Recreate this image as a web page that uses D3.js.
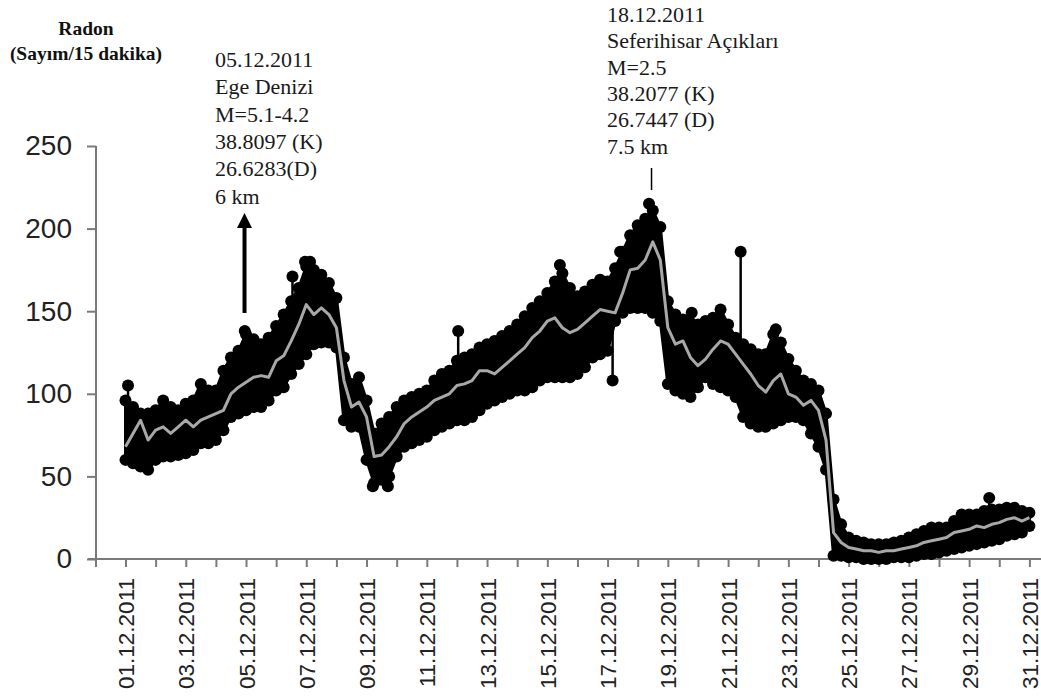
<!DOCTYPE html>
<html>
<head>
<meta charset="utf-8">
<script src="https://cdn.jsdelivr.net/npm/d3@7"></script>
<style>
  html, body { margin: 0; padding: 0; background: #fff; }
  svg { display: block; }
</style>
</head>
<body>
<svg id="chart" width="1041" height="700"></svg>
<script>
// ---- data (6-hour steps from 01.12.2011 00:00) ----
const meanValues = [
  68,76,84,72, 78,80,76,80, 84,80,84,86, 88,90,100,104, 107,110,111,110,
  120,123,132,142, 154,148,152,148, 140,108,92,95, 86,62,63,68, 74,82,86,89,
  92,96,98,100, 105,106,108,114, 114,112,116,120, 124,128,134,138, 144,146,140,137,
  139,143,147,151, 150,149,161,175, 176,181,192,181, 140,130,132,122, 117,121,127,132,
  130,124,118,112, 105,101,108,112, 100,98,93,96, 90,72,16,10, 7,6,5,5,
  4,5,5,6, 7,8,10,11, 12,13,16,17, 18,20,19,21, 22,24,25,23, 25
];
const upperValues = [
  96,92,88,88, 90,96,92,90, 94,96,106,102, 102,114,122,126, 136,133,130,134,
  141,148,156,164, 177,175,172,167, 158,122,106,110, 96,76,82,86, 92,96,98,100,
  102,108,112,114, 120,122,124,128, 130,132,135,138, 142,147,152,156, 161,168,173,164,
  159,162,166,169, 168,176,186,196, 202,206,211,201, 156,148,145,143, 142,144,146,151,
  142,134,130,127, 124,124,136,131, 121,114,108,106, 102,88,36,21, 13,11,10,9,
  9,9,10,11, 13,15,17,19, 19,19,23,27, 27,27,29,30, 30,31,31,29, 28
];
const lowerValues = [
  60,58,56,54, 60,62,62,63, 64,66,70,70, 72,78,86,88, 90,92,92,96,
  102,104,112,118, 124,130,131,131, 128,84,80,80, 60,46,48,50, 62,68,70,72,
  74,78,80,82, 84,84,86,90, 94,96,98,100, 102,102,104,108, 110,110,110,110,
  112,116,122,124, 126,144,149,152, 152,152,149,144, 106,102,100,98, 104,110,106,104,
  102,98,86,82, 80,80,82,84, 86,86,84,76, 68,54,2,2, 1,1,0,0,
  0,0,1,1, 1,2,3,3, 4,5,6,7, 8,9,10,11, 12,14,15,16, 20
];
// isolated readings standing out of the band
const spikeTimes = [
  "2011-12-01T02:00","2011-12-04T23:00","2011-12-06T13:00","2011-12-06T23:00",
  "2011-12-07T03:00","2011-12-09T05:00","2011-12-09T17:00","2011-12-12T01:00",
  "2011-12-15T10:00","2011-12-17T04:00","2011-12-17T10:00","2011-12-18T09:00",
  "2011-12-19T19:00","2011-12-21T10:00","2011-12-22T14:00","2011-12-29T16:00"
];
const spikeValues = [105,138,171,180, 180,44,44,138, 178,108,186,215, 149,186,139,37];

const yTicks = [0,50,100,150,200,250];
const tickLabels = ["01.12.2011","03.12.2011","05.12.2011","07.12.2011","09.12.2011",
  "11.12.2011","13.12.2011","15.12.2011","17.12.2011","19.12.2011","21.12.2011",
  "23.12.2011","25.12.2011","27.12.2011","29.12.2011","31.12.2011"];

const note1 = ["05.12.2011","Ege Denizi","M=5.1-4.2","38.8097 (K)","26.6283(D)","6 km"];
const note2 = ["18.12.2011","Seferihisar Açıkları","M=2.5","38.2077 (K)","26.7447 (D)","7.5 km"];

// ---- scales ----
const svg = d3.select("#chart");
const t0 = new Date(2011, 11, 1);
const x = d3.scaleTime().domain([t0, new Date(2011, 11, 31)]).range([125.5, 1029.4]);
const y = d3.scaleLinear().domain([0, 250]).range([559, 146]);
const times = meanValues.map((_, i) => d3.timeHour.offset(t0, i * 6));
const parse = d3.timeParse("%Y-%m-%dT%H:%M");

const axisColor = "#7a7a7a";
const textColor = "#222";

// ---- axes ----
const yAxis = svg.append("g").attr("transform", "translate(96,0)")
  .call(d3.axisLeft(y).tickValues(yTicks).tickSize(9).tickPadding(15));
yAxis.select(".domain").remove();
yAxis.selectAll(".tick line").attr("stroke", axisColor).attr("stroke-width", 2);
yAxis.selectAll(".tick text").attr("fill", textColor)
  .style("font-family", "'Liberation Sans', Arial, sans-serif").style("font-size", "28px");

const labelMap = new Map(tickLabels.map(s => [s, true]));
const fmt = d3.timeFormat("%d.%m.%Y");
const xAxis = svg.append("g").attr("transform", "translate(0,559)")
  .call(d3.axisBottom(x).ticks(d3.timeDay.every(1)).tickSize(8)
    .tickFormat(d => labelMap.has(fmt(d)) ? fmt(d) : ""));
xAxis.select(".domain").remove();
xAxis.selectAll(".tick line").attr("stroke", axisColor).attr("stroke-width", 2);
xAxis.selectAll(".tick text")
  .attr("fill", textColor)
  .style("font-family", "'Liberation Sans', Arial, sans-serif").style("font-size", "22.5px")
  .attr("transform", "rotate(-90)")
  .attr("text-anchor", "end")
  .attr("x", -19).attr("y", 0).attr("dy", "0.36em");

svg.append("line").attr("x1", 96).attr("x2", 96).attr("y1", 146).attr("y2", 567)
  .attr("stroke", axisColor).attr("stroke-width", 2);
svg.append("line").attr("x1", 88).attr("x2", 1041).attr("y1", 559).attr("y2", 559)
  .attr("stroke", axisColor).attr("stroke-width", 2);

// ---- data band (raw 15-minute counts) ----
const band = d3.area()
  .x((d, i) => x(times[i]))
  .y0((d, i) => y(lowerValues[i]))
  .y1((d, i) => y(upperValues[i]));
svg.append("path").datum(meanValues).attr("d", band).attr("fill", "#000")
  .attr("stroke", "#000").attr("stroke-width", 3);

const dotR = 6;
svg.append("g").selectAll("circle.u").data(upperValues).join("circle")
  .attr("cx", (d, i) => x(times[i])).attr("cy", d => y(d)).attr("r", dotR).attr("fill", "#000");
svg.append("g").selectAll("circle.l").data(lowerValues).join("circle")
  .attr("cx", (d, i) => x(times[i])).attr("cy", d => y(d)).attr("r", dotR).attr("fill", "#000");

// spikes
const meanAt = t => {
  const idx = (t - t0) / (6 * 3600 * 1000);
  const i0 = Math.max(0, Math.min(meanValues.length - 1, Math.floor(idx)));
  const i1 = Math.min(meanValues.length - 1, i0 + 1);
  const f = idx - i0;
  return meanValues[i0] * (1 - f) + meanValues[i1] * f;
};
const spikes = spikeTimes.map((s, i) => ({ t: parse(s), v: spikeValues[i] }));
svg.append("g").selectAll("line").data(spikes).join("line")
  .attr("x1", d => x(d.t)).attr("x2", d => x(d.t))
  .attr("y1", d => y(d.v)).attr("y2", d => y(meanAt(d.t)))
  .attr("stroke", "#000").attr("stroke-width", 2.5);
svg.append("g").selectAll("circle").data(spikes).join("circle")
  .attr("cx", d => x(d.t)).attr("cy", d => y(d.v)).attr("r", dotR).attr("fill", "#000");

// moving mean (grey)
svg.append("path").datum(meanValues)
  .attr("d", d3.line().x((d, i) => x(times[i])).y(d => y(d)))
  .attr("fill", "none").attr("stroke", "#a8a8a8").attr("stroke-width", 3)
  .attr("stroke-linejoin", "round");

// ---- titles and annotations ----
const serif = "'Liberation Serif', 'Times New Roman', serif";
svg.append("text").attr("x", 86).attr("y", 35).attr("text-anchor", "middle")
  .style("font-family", serif).style("font-weight", "bold").style("font-size", "19.5px")
  .attr("fill", "#111").text("Radon");
svg.append("text").attr("x", 86).attr("y", 60).attr("text-anchor", "middle")
  .style("font-family", serif).style("font-weight", "bold").style("font-size", "19.5px")
  .attr("fill", "#111").text("(Sayım/15 dakika)");

svg.append("g").selectAll("text").data(note1).join("text")
  .attr("x", 215).attr("y", (d, i) => 67 + i * 27.3)
  .style("font-family", serif).style("font-size", "22px").attr("fill", "#1a1a1a")
  .text(d => d);
svg.append("g").selectAll("text").data(note2).join("text")
  .attr("x", 607).attr("y", (d, i) => 22 + i * 26.3)
  .style("font-family", serif).style("font-size", "22px").attr("fill", "#1a1a1a")
  .text(d => d);

// arrow for 05.12.2011 event
const ax = x(new Date(2011, 11, 5)) - 1.5;
svg.append("line").attr("x1", ax).attr("x2", ax).attr("y1", 313).attr("y2", 225)
  .attr("stroke", "#000").attr("stroke-width", 4);
svg.append("path")
  .attr("d", `M${ax},213 L${ax - 7.5},228 L${ax + 7.5},228 Z`).attr("fill", "#000");
// marker for 18.12.2011 event
const mx = x(new Date(2011, 11, 18, 11));
svg.append("line").attr("x1", mx).attr("x2", mx).attr("y1", 168).attr("y2", 190)
  .attr("stroke", "#000").attr("stroke-width", 1.5);
</script>
</body>
</html>
